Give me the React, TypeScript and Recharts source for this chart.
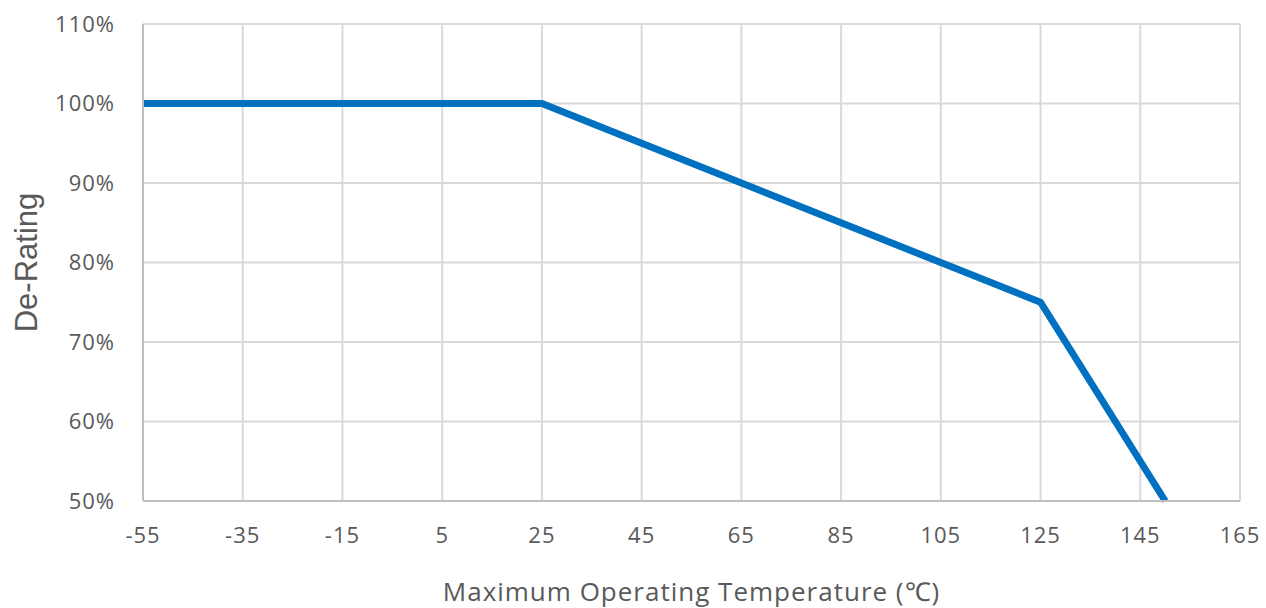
import { LineChart, Line, XAxis, YAxis, CartesianGrid } from 'recharts';

// Temperature (°C) vs de-rating (%)
const temps = [-55, 25, 125, 150];
const derating = [100, 100, 75, 50];
const xTicks = [-55, -35, -15, 5, 25, 45, 65, 85, 105, 125, 145, 165];
const yTicks = [50, 60, 70, 80, 90, 100, 110];

const data = temps.map((t, i) => ({ temp: t, value: derating[i] }));

const tickStyle = { fill: '#595959', fontSize: 22, fontFamily: '"Open Sans", sans-serif', letterSpacing: 1 };

export default function App() {
    return (
        <div style={{ position: 'absolute', left: 0, top: 0, background: '#fff' }}>
            <LineChart width={1266} height={608} data={data} margin={{ top: 24, right: 26, bottom: 0, left: 0 }}>
                <CartesianGrid stroke="#d9d9d9" strokeWidth={2} />
                <XAxis
                    dataKey="temp"
                    type="number"
                    domain={[-55, 165]}
                    ticks={xTicks}
                    interval={0}
                    height={107}
                    stroke="#bfbfbf"
                    strokeWidth={2}
                    tickLine={false}
                    tickSize={0}
                    tickMargin={26}
                    tick={tickStyle}
                    label={{
                        value: 'Maximum Operating Temperature (℃)',
                        position: 'insideBottom',
                        offset: 7,
                        style: { fill: '#595959', fontSize: 26, fontFamily: '"Open Sans", sans-serif', letterSpacing: 1 },
                    }}
                />
                <YAxis
                    type="number"
                    domain={[50, 110]}
                    ticks={yTicks}
                    interval={0}
                    width={143}
                    stroke="#bfbfbf"
                    strokeWidth={2}
                    tickLine={false}
                    tickSize={0}
                    tickMargin={28}
                    tick={tickStyle}
                    tickFormatter={(v) => `${v}%`}
                    label={{
                        value: 'De-Rating',
                        angle: -90,
                        position: 'insideLeft',
                        offset: 26,
                        style: { textAnchor: 'middle', fill: '#595959', fontSize: 31, fontFamily: '"Liberation Sans", Arial, sans-serif' },
                    }}
                />
                <Line
                    type="linear"
                    dataKey="value"
                    stroke="#0070c0"
                    strokeWidth={7}
                    dot={false}
                    isAnimationActive={false}
                />
            </LineChart>
        </div>
    );
}
